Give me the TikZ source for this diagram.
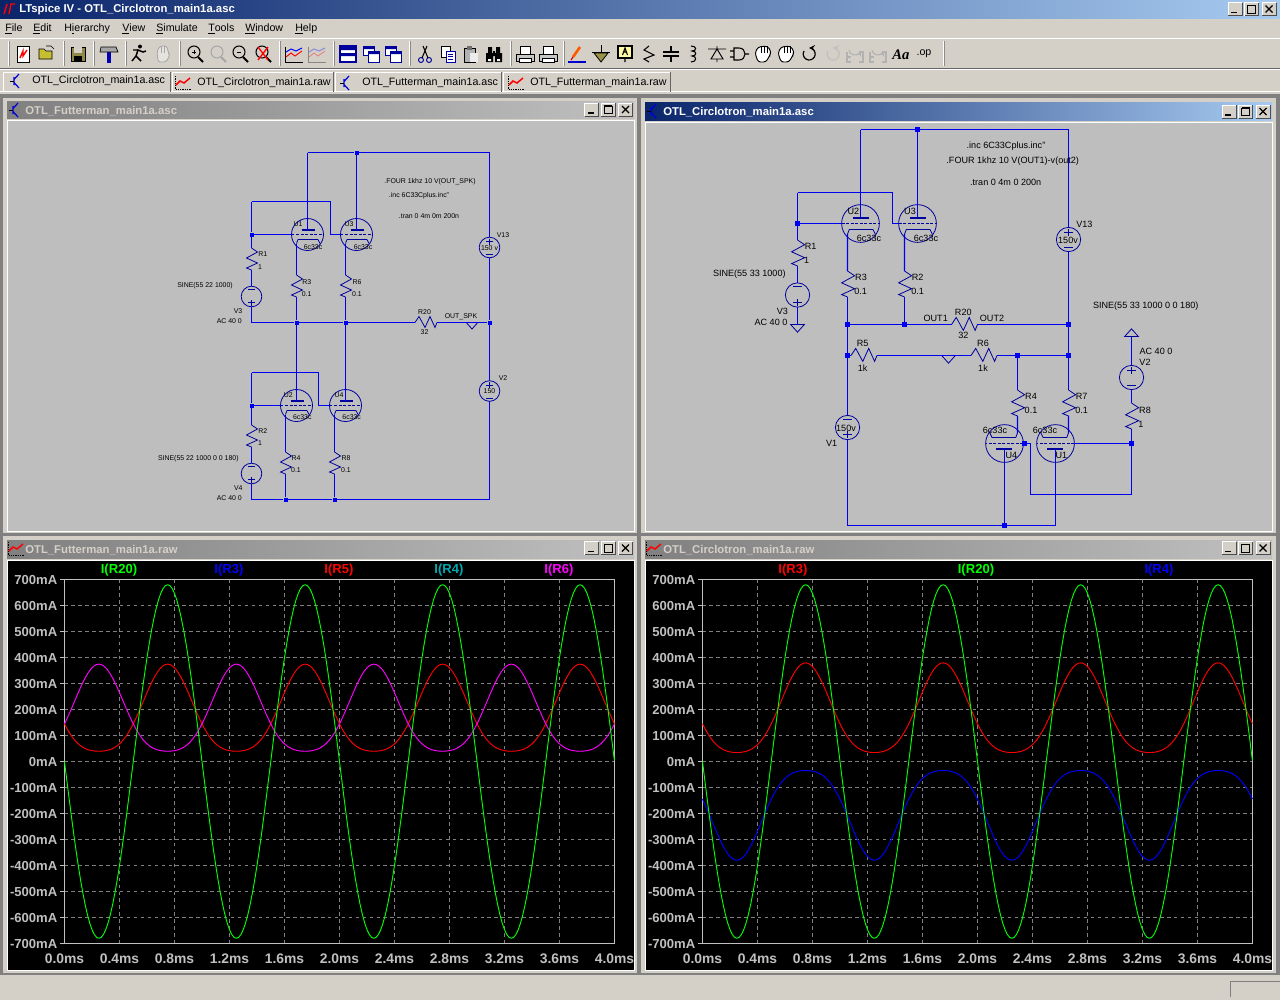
\documentclass[tikz,border=0pt]{standalone}
\usepackage{fontspec}
\setmainfont{Liberation Sans}
\newfontfamily\aafont{Liberation Serif}
\usepackage{xcolor}
\definecolor{panel}{HTML}{D4D0C8}
\definecolor{schem}{HTML}{BEBEBE}
\definecolor{wirec}{HTML}{0000F0}
\definecolor{elemc}{HTML}{00009C}
\definecolor{axisc}{HTML}{C0C0C0}
\definecolor{gridc}{HTML}{808080}
\definecolor{cyanlab}{HTML}{00A8B0}
\definecolor{titlea}{HTML}{0A246A}
\definecolor{titleb}{HTML}{A6CAF0}
\definecolor{tmag}{HTML}{FF00FF}
\tikzset{
	wire/.style={wirec,line width=0.9pt},
	elem/.style={elemc,line width=0.6pt},
	jl/.style={rectangle,fill=wirec,inner sep=0pt,minimum size=3pt},
	jr/.style={rectangle,fill=wirec,inner sep=0pt,minimum size=4pt},
	big/.style={scale=1.18},
	tl/.style={inner sep=0pt,font=\fontsize{5.2}{6}\selectfont},
	tr/.style={inner sep=0pt,font=\fontsize{6.8}{8}\selectfont},
	uitext/.style={inner sep=0pt,anchor=west,font=\fontsize{8}{10}\selectfont},
	wintitle/.style={inner sep=0pt,anchor=west,font=\fontsize{8.5}{10}\selectfont\bfseries},
	axlab/.style={inner sep=0pt,axisc,font=\fontsize{9.8}{11}\selectfont\bfseries},
	griddash/.style={gridc,line width=0.6pt,dash pattern=on 2.6pt off 2.6pt},
	trace/.style={line width=0.7pt,line join=round},
	active/.style={left color=titlea,right color=titleb},
	inactive/.style={left color=gridc,right color=axisc},
	resv/.pic={
		\coordinate (-a) at (0,0);
		\coordinate (-b) at (0,22);
		\draw[elem] (-a) -- (6,4) -- (-5,10) -- (6,15) -- (-5,20) -- (-b);
	},
	vsrc/.pic={
		\coordinate (-p) at (0,-10.3);
		\coordinate (-m) at (0,10.3);
		\draw[elem] (0,0) circle [radius=10.3];
		\draw[elem] (-3.5,-6) -- (3.5,-6) (0,-9) -- (0,-3) (-3.5,7) -- (3.5,7);
	},
	tube/.pic={
		\coordinate (-plate) at (0,-4.5);
		\coordinate (-cath) at (-11,9);
		\coordinate (-gl) at (-16,0);
		\coordinate (-gr) at (16,0);
		\draw[elem] (0,0) circle [radius=16];
		\draw[elem,line width=1.3pt] (-6,-4.5) -- (7,-4.5);
		\draw[elem,dash pattern=on 2.2pt off 1.2pt] (-16,0) -- (16,0);
		\draw[elem,line width=1.2pt] (-9.5,5) -- (10.5,5);
		\draw[elem] (-11,9) -- (-9.5,5) (10.5,5) -- (12.5,9);
	},
	flag/.pic={
		\coordinate (-a) at (0,0);
		\draw[elem] (-5.8,0) -- (5.8,0) -- (0,6.5) -- cycle;
	},
	icnew/.pic={
		\draw[black,fill=white,line width=0.5pt] (-6,-8) rectangle (6,8);
		\draw[red,line width=1.1pt] (-3,4) -- (0,-3) -- (0,2) -- (4,-4);
	},
	icopen/.pic={
		\draw[black,fill=yellow!75!black,line width=0.5pt] (-8,6) -- (-8,-4) -- (-3,-4) -- (-1,-2) -- (5,-2) -- (5,6) -- cycle;
		\draw[black,line width=0.5pt] (-1,-7) -- (4,-7) -- (7,-4);
	},
	icsave/.pic={
		\draw[black,fill=yellow!50!black,line width=0.6pt] (-7,-7) rectangle (7,7);
		\fill[panel] (-4,-7) rectangle (4,-1);
		\fill[black] (-4,2) rectangle (4,7);
	},
	ichammer/.pic={
		\fill[blue!70!black] (-2,-2) rectangle (2,9);
		\draw[black,fill=gray!70,line width=0.5pt] (-9,-2) -- (-8,-7) -- (7,-7) -- (9,-2) -- cycle;
	},
	icrun/.pic={
		\draw[black,line width=1.1pt] (-7,8) -- (-3,3) -- (-1,-3) -- (4,-1) -- (7,-2) (-1,-3) -- (-6,-3) (-3,3) -- (2,8);
		\fill[black] (1,-6.5) circle [radius=2];
	},
	ichand/.pic={
		\draw[gray!70,fill=panel!60!white,line width=0.6pt,rounded corners=2pt] (-5,8) -- (-6,-3) -- (-3,-8) -- (4,-8) -- (5,-2) -- (7,1) -- (3,8) -- cycle;
		\draw[gray!70,line width=0.5pt] (-2,-8) -- (-2,-1) (1,-8) -- (1,-1);
	},
	ichandk/.pic={
		\draw[black,fill=white,line width=0.7pt,rounded corners=2pt] (-5,8) -- (-8,-1) -- (-5,-7) -- (4,-8) -- (8,-3) -- (7,1) -- (3,8) -- cycle;
		\draw[black,line width=0.6pt] (-2,-8) -- (-2,-1) (1,-8) -- (1,-1) (4,-8) -- (4,-1);
	},
	icwave/.pic={
		\draw[black,line width=0.5pt] (-9,-7) -- (-9,8) -- (9,8);
		\draw[red,line width=0.7pt] (-8,3) -- (-3,-1) -- (1,2) -- (8,-3);
		\draw[blue,line width=0.7pt] (-8,-2) -- (-3,-5) -- (2,-3) -- (8,-6);
	},
	icwin/.pic={
		\draw[elemc,fill=white,line width=0.8pt] (-8,-8) rectangle (8,8);
		\fill[elemc] (-8,-8) rectangle (8,-4) (-8,-1) rectangle (8,2);
	},
	iccasc/.pic={
		\draw[elemc,fill=white,line width=0.7pt] (-8,-8) rectangle (3,1);
		\draw[elemc,fill=white,line width=0.7pt] (-3,-3) rectangle (8,8);
		\fill[elemc] (-8,-8) rectangle (3,-5) (-3,-3) rectangle (8,0);
	},
	icscis/.pic={
		\draw[elemc,line width=0.7pt] (-4,6) circle [radius=2.5] (4,6) circle [radius=2.5];
		\draw[black,line width=0.8pt] (-3,4) -- (2,-8) (3,4) -- (-2,-8);
	},
	iccopy/.pic={
		\draw[black,fill=white,line width=0.5pt] (-7,-8) rectangle (2,3);
		\draw[blue!70!black,fill=white,line width=0.5pt] (-2,-3) rectangle (7,8);
		\draw[elemc,line width=0.5pt] (0,0) -- (5,0) (0,2.5) -- (5,2.5) (0,5) -- (5,5);
	},
	icpaste/.pic={
		\draw[black,fill=gray!60,line width=0.5pt] (-7,-6) rectangle (4,8);
		\fill[gray!85!black] (-4,-8) rectangle (1,-4);
		\fill[white!85!gray] (-1,-1) rectangle (7,8);
	},
	icbino/.pic={
		\fill[black] (-8,-1) rectangle (-1,8) (1,-1) rectangle (8,8) (-6,-7) rectangle (-2,0) (2,-7) rectangle (6,0) (-1,-3) rectangle (1,2);
		\fill[white] (-6,5) rectangle (-3,7) (3,5) rectangle (6,7);
	},
	icprint/.pic={
		\draw[black,fill=white,line width=0.6pt] (-5,-8) rectangle (5,0);
		\draw[black,fill=gray!45,line width=0.6pt] (-9,0) rectangle (9,7);
		\draw[black,fill=white,line width=0.5pt] (-6,4) rectangle (6,8);
	},
	icpen/.pic={
		\draw[orange!70!red,line width=2pt] (-4,3) -- (3,-7);
		\draw[red!70!black,line width=0.8pt] (-6,6) -- (-4,3);
		\draw[blue!80!black,line width=0.9pt] (-9,8) -- (9,8);
	},
	icgnd/.pic={
		\draw[black,line width=0.7pt] (0,-9) -- (0,-2) (-9,-2) -- (9,-2);
		\draw[black,fill=yellow!55!black,line width=0.6pt] (-7,-1) -- (7,-1) -- (0,8) -- cycle;
	},
	iclabel/.pic={
		\draw[black,fill=yellow!35!white,line width=0.8pt] (-7,-8) rectangle (7,4);
		\draw[black,line width=0.8pt] (0,4) -- (0,8) (-2.5,1) -- (0,-6) -- (2.5,1) (-1.5,-2) -- (1.5,-2);
	},
	icres/.pic={
		\draw[black,line width=0.8pt] (0,-8) -- (-5,-4) -- (5,1) -- (-5,5) -- (0,8);
	},
	iccap/.pic={
		\draw[black,line width=0.8pt] (0,-8) -- (0,-2) (-8,-2) -- (8,-2) (-8,2) -- (8,2) (0,2) -- (0,8);
	},
	icind/.pic={
		\draw[black,line width=0.8pt] (-2,-8) .. controls (4,-8) and (4,-3) .. (-1,-3) .. controls (4,-3) and (4,2) .. (-1,2) .. controls (4,2) and (4,8) .. (-2,8);
	},
	icdiode/.pic={
		\draw[black,line width=0.7pt] (-9,-5) -- (9,-5) (0,-8) -- (0,-5) (-6,5) -- (6,5) -- (0,-5) -- cycle (0,5) -- (0,8);
	},
	icgate/.pic={
		\draw[black,line width=0.8pt] (-9,-3) -- (-5,-3) (-9,3) -- (-5,3) (-5,-6) -- (0,-6) .. controls (8,-6) and (8,6) .. (0,6) -- (-5,6) -- cycle (6,0) -- (10,0);
	},
	icredo/.pic={
		\draw[line width=0.9pt,->,>=stealth] (-4,-3) arc (210:-90:6);
	},
	iclabelgray/.pic={
		\draw[gray!60,line width=0.8pt] (-8,-2) -- (-8,8) -- (-4,8) (-8,3) -- (-4,3) (4,-2) -- (8,-2) -- (8,8) -- (4,8);
		\draw[gray!60,line width=0.8pt,->,>=stealth] (-6,-4) arc (170:20:6);
	},
	icsch/.pic={
		\draw[blue!85!black,line width=0.9pt] (-3,-4) -- (-3,4) (-3,-1.5) -- (2,-7) (-3,1.5) -- (2,7);
		\draw[black,line width=0.6pt] (-7,0) -- (-3,0);
	},
	icraw/.pic={
		\draw[black,line width=0.6pt,dash pattern=on 1pt off 0.7pt] (-8,-7) -- (-8,6) -- (8,6);
		\draw[red,line width=1.1pt] (-7,2) -- (-3,-2) -- (1,0) -- (7,-5);
	},
}
\newcommand{\capbtns}[3]{
	\fill[panel] (#1,#2) rectangle +(14,13) (#1+16.5,#2) rectangle +(14,13) (#1+34,#2) rectangle +(14,13);
	\foreach \bx in {0,16.5,34}{
		\draw[white,line width=0.6pt] (#1+\bx,#2+13) -- (#1+\bx,#2) -- (#1+\bx+14,#2);
		\draw[black!70,line width=0.6pt] (#1+\bx+14,#2) -- (#1+\bx+14,#2+13) -- (#1+\bx,#2+13);
	}
	\draw[black,line width=1.2pt] (#1+3,#2+10) -- (#1+9,#2+10);
	\draw[black,line width=0.7pt] (#1+19.5,#2+#3) rectangle (#1+27.5,#2+10.5);
	\draw[black,line width=1pt] (#1+19.5,#2+#3) -- (#1+27.5,#2+#3);
	\draw[black,line width=1pt] (#1+37.5,#2+3) -- (#1+44.5,#2+10) (#1+44.5,#2+3) -- (#1+37.5,#2+10);
}
\newcommand{\plotframe}[1]{
	\begin{scope}[shift={(#1,761.5)}]
		\foreach \i in {1,...,9}
			\draw[griddash] (55*\i,-182) -- (55*\i,182);
		\foreach \v in {-6,...,6}
			\draw[griddash] (0,26*\v) -- (550,26*\v);
		\draw[axisc,line width=0.7pt] (0,-182) rectangle (550,182);
		\foreach \v in {-7,...,7}{
			\draw[axisc,line width=0.7pt] (-5,-26*\v) -- (0,-26*\v);
			\ifnum\v=0
				\node [axlab,anchor=east] at (-7,0) (ylab#1\v) {0mA};
			\else
				\node [axlab,anchor=east] at (-7,-26*\v) (ylab#1\v) {\v00mA};
			\fi
		}
		\foreach \t [count=\i from 0] in {0.0,0.4,0.8,1.2,1.6,2.0,2.4,2.8,3.2,3.6,4.0}
			\node [axlab,font=\fontsize{10.4}{11}\selectfont\bfseries] at (55*\i,197.5) (xlab#1\i) {\t ms};
	\end{scope}
}
\begin{document}
\begin{tikzpicture}[x=0.75pt,y=-0.75pt]
	\useasboundingbox (0,0) rectangle (1280,1000);
	\fill[panel] (0,0) rectangle (1280,1000);
	\fill[gridc] (0,94) rectangle (1280,975);

	\shade[active] (0,0) rectangle (1280,18);
	\draw[red,line width=1.1pt] (4,14) -- (7,4) (9,14) -- (11,4) -- (15,4);
	\node [wintitle,white] at (19,10) (apptitle) {LTspice IV - OTL\_Circlotron\_main1a.asc};
	\capbtns{1228}{2.5}{3}
	\foreach \t/\x in {\underline{F}ile/5,\underline{E}dit/33,H\underline{i}erarchy/64,\underline{V}iew/122,\underline{S}imulate/156,\underline{T}ools/208,\underline{W}indow/245,\underline{H}elp/295}
		\node [uitext] at (\x,29) (menu\x) {\t};
	\draw[white,line width=0.7pt] (0,38.5) -- (1280,38.5) (0,69.5) -- (1280,69.5);
	\draw[black!60,line width=0.7pt] (0,68) -- (1280,68);
	\foreach \x in {8,63,93,125,179,279,333,409,510,563,943}{
		\draw[white,line width=0.6pt] (\x,41) -- (\x,66);
		\draw[black!45,line width=0.6pt] (\x+1,41) -- (\x+1,66);
	}
	\pic at (23,54) {icnew};
	\pic at (47,53) {icopen};
	\pic at (78,54) {icsave};
	\pic at (109,54) {ichammer};
	\pic at (139,53) {icrun};
	\pic at (163,54) {ichand};
	\foreach \x/\c in {195/black,218/gray!70,240/black,263/black}{
		\draw[\c,line width=0.8pt] (\x-1,52) circle [radius=6];
		\draw[\c,line width=1.5pt] (\x+3,57) -- (\x+8,62);
	}
	\draw[black,line width=0.6pt] (192,52) -- (196,52) (194,50) -- (194,54) (237,52) -- (241,52);
	\draw[red,line width=1pt] (258,47) -- (268,60) (268,47) -- (258,60);
	\pic at (294,54) {icwave};
	\pic[opacity=0.35] at (317,54) {icwave};
	\pic at (348,54) {icwin};
	\pic at (371,54) {iccasc};
	\pic at (393,54) {iccasc};
	\pic at (425,54) {icscis};
	\pic at (448,54) {iccopy};
	\pic at (471,54) {icpaste};
	\pic at (494,54) {icbino};
	\pic at (525,54) {icprint};
	\pic at (548,54) {icprint};
	\pic at (577,54) {icpen};
	\pic at (601,54) {icgnd};
	\pic at (625,54) {iclabel};
	\pic at (649,54) {icres};
	\pic at (671,54) {iccap};
	\pic at (693,54) {icind};
	\pic at (717,54) {icdiode};
	\pic at (739,54) {icgate};
	\pic at (763,54) {ichandk};
	\pic at (786,54) {ichandk};
	\pic[black] at (808,54) {icredo};
	\pic[gray!50] at (832,54) {icredo};
	\pic at (855,54) {iclabelgray};
	\pic at (878,54) {iclabelgray};
	\node [inner sep=0pt,font=\fontsize{11}{12}\selectfont\aafont\bfseries\itshape] at (901,55) (icaa) {Aa};
	\node [inner sep=0pt,font=\fontsize{8}{10}\selectfont] at (924,54) (icop) {.op};

	\draw[white,line width=0.7pt] (0,91.5) -- (1280,91.5);
	\foreach \xa/\xb/\xi/\xt/\yt/\t/\ic/\n in {3/170/17/32/81/OTL\_Circlotron\_main1a.asc/icsch/1,172/333/183/197/83/OTL\_Circlotron\_main1a.raw/icraw/2,335/501/347/362/83/OTL\_Futterman\_main1a.asc/icsch/3,503/670/516/530/83/OTL\_Futterman\_main1a.raw/icraw/4}{
		\draw[white,line width=0.6pt] (\xa,92) -- (\xa,72) -- (\xb,72);
		\draw[black!60,line width=0.6pt] (\xb,72) -- (\xb,92);
		\pic at (\xi,\yt) {\ic};
		\node [uitext] at (\xt,\yt) (tab\n) {\t};
	}

	\fill[panel] (3,98) rectangle (637,533);
	\fill[panel] (641,98) rectangle (1276,533);
	\fill[panel] (3,536) rectangle (637,973);
	\fill[panel] (641,536) rectangle (1276,973);
	\shade[inactive] (7,101) rectangle (634,118);
	\shade[active] (645,102) rectangle (1272,120);
	\shade[inactive] (7,540) rectangle (634,558);
	\shade[inactive] (645,540) rectangle (1272,558);
	\fill[schem,draw=white,line width=0.6pt] (7,120) rectangle (634,531);
	\fill[schem,draw=white,line width=0.6pt] (645,122) rectangle (1272,531);
	\fill[black,draw=white,line width=0.6pt] (7,560) rectangle (634,970);
	\fill[black,draw=white,line width=0.6pt] (645,560) rectangle (1272,970);
	\pic at (16,110) {icsch};
	\pic at (654,111) {icsch};
	\pic at (16,549) {icraw};
	\pic at (654,549) {icraw};
	\node [wintitle,panel] at (25,111) (wlt) {OTL\_Futterman\_main1a.asc};
	\node [wintitle,white] at (663,112) (wrt) {OTL\_Circlotron\_main1a.asc};
	\node [wintitle,panel] at (25,550) (wlb) {OTL\_Futterman\_main1a.raw};
	\node [wintitle,panel] at (663,550) (wrb) {OTL\_Circlotron\_main1a.raw};
	\capbtns{584.5}{103}{3}
	\capbtns{1222}{105}{3}
	\capbtns{584.5}{541.5}{3}
	\capbtns{1222}{541.5}{3}
	\draw[black!50,line width=0.6pt] (1230,997) -- (1230,981) -- (1280,981);

	\node [jl] at (356.5,152.5) (ltop) {};
	\coordinate (ltl) at (307.5,152.5);
	\coordinate (ltr) at (489.5,152.5);
	\pic (lu1) at (307.5,234.5) {tube};
	\pic (lu3) at (356.5,234.5) {tube};
	\node [jl] at (251.5,234.5) (lgrid1) {};
	\coordinate (lg1) at (251.5,201.5);
	\coordinate (lg2) at (330.5,201.5);
	\coordinate (lg3) at (330.5,234.5);
	\pic (lr1) at (251.5,248) {resv};
	\pic[rotate=180] (lv3) at (251.5,296.5) {vsrc};
	\coordinate (lmidl) at (251.5,322.5);
	\pic (lr3) at (296.5,275) {resv};
	\pic (lr5) at (345.5,275) {resv};
	\node [jl] at (296.5,322.5) (lm1) {};
	\node [jl] at (345.5,322.5) (lm2) {};
	\node [jl] at (489.5,322.5) (lm3) {};
	\pic[rotate=90] (lr20) at (415,322.5) {resv};
	\pic (lflag) at (472,322.5) {flag};
	\pic (lv13) at (489.5,247.5) {vsrc};
	\pic (lv2) at (489.5,391) {vsrc};
	\pic (lu2) at (296.5,405.5) {tube};
	\pic (lu4) at (345.5,405.5) {tube};
	\node [jl] at (251.5,405.5) (lgrid2) {};
	\coordinate (lg4) at (251.5,372.5);
	\coordinate (lg5) at (318.5,372.5);
	\coordinate (lg6) at (318.5,405.5);
	\pic (lr2) at (251.5,425) {resv};
	\pic[rotate=180] (lv4) at (251.5,473.5) {vsrc};
	\pic (lr4) at (285.5,452) {resv};
	\pic (lr8) at (334.5,452) {resv};
	\coordinate (lbl) at (251.5,499.5);
	\coordinate (lbr) at (489.5,499.5);
	\node [jl] at (285.5,499.5) (lb1) {};
	\node [jl] at (334.5,499.5) (lb2) {};

	\path[wire]
	(ltl) edge (ltop)
	(ltop) edge (ltr)
	(ltl) edge (lu1-plate)
	(ltop) edge (lu3-plate)
	(ltr) edge (lv13-p)
	(lv13-m) edge (lm3)
	(lm3) edge (lv2-p)
	(lv2-m) edge (lbr)
	(lgrid1) edge (lu1-gl)
	(lgrid1) edge (lg1)
	(lg1) edge (lg2)
	(lg2) edge (lg3)
	(lg3) edge (lu3-gl)
	(lgrid1) edge (lr1-a)
	(lr1-b) edge (lv3-m)
	(lv3-p) edge (lmidl)
	(lmidl) edge (lm1)
	(lm1) edge (lm2)
	(lm2) edge (lr20-a)
	(lr20-b) edge (lm3)
	(lu1-cath) edge (lr3-a)
	(lr3-b) edge (lm1)
	(lu3-cath) edge (lr5-a)
	(lr5-b) edge (lm2)
	(lm1) edge (lu2-plate)
	(lm2) edge (lu4-plate)
	(lgrid2) edge (lu2-gl)
	(lgrid2) edge (lg4)
	(lg4) edge (lg5)
	(lg5) edge (lg6)
	(lg6) edge (lu4-gl)
	(lgrid2) edge (lr2-a)
	(lr2-b) edge (lv4-m)
	(lv4-p) edge (lbl)
	(lu2-cath) edge (lr4-a)
	(lr4-b) edge (lb1)
	(lu4-cath) edge (lr8-a)
	(lr8-b) edge (lb2)
	(lbl) edge (lb1)
	(lb1) edge (lb2)
	(lb2) edge (lbr);

	\foreach \t/\x/\y/\n in {.FOUR 1khz 10 V(OUT\_SPK)/430/181.7/a,.inc 6C33Cplus.inc"/419/195.7/b,.tran 0 4m 0m 200n/429/215.7/c,V13/503/235/d,150 v/489.5/248.5/e,V2/503/378/f,150/489.5/391.5/g,U1/298/224/h,6c33c/313/246.7/i,U3/349/224/j,6c33c/363/246.7/k,R1/262.7/253.7/l,1/260/266.7/m,R3/306.7/281.7/n,0.1/306.7/293.7/o,R6/357/281.7/p,0.1/357/293.7/q,SINE(55 22 1000)/205/285.7/r,V3/238/311/s,AC 40 0/229.3/321.3/t,R20/424.5/312/u,32/424.5/332/v,OUT\_SPK/461/317/w,U2/288.3/395/x,U4/339/395/y,6c33c/302.3/417.3/z,6c33c/351.7/417.3/aa,R2/262.7/430.7/ab,1/260/442.7/ac,R4/296/457.7/ad,0.1/296/470.3/ae,R8/346/457.7/af,0.1/346/470.3/ag,SINE(55 22 1000 0 0 180)/198.3/458.7/ah,V4/238.3/488.3/ai,AC 40 0/229.3/497.7/aj}
		\node [tl] at (\x,\y) (ltxt\n) {\t};

	\node [jr] at (917.5,129.5) (rtop) {};
	\coordinate (rtl) at (860.5,129.5);
	\coordinate (rtr) at (1068.5,129.5);
	\pic[big] (ru2) at (860.5,223.5) {tube};
	\pic[big] (ru3) at (917.5,223.5) {tube};
	\node [jr] at (797.5,223.5) (rgrid) {};
	\coordinate (rg1) at (797.5,192.5);
	\coordinate (rg2) at (892.5,192.5);
	\coordinate (rg3) at (892.5,223.5);
	\pic[big] (rr1) at (797.5,240) {resv};
	\pic[big,rotate=180] (rv3) at (797.5,295) {vsrc};
	\pic[big] (rgnd) at (797.5,324.5) {flag};
	\pic[big] (rr3) at (847.5,271) {resv};
	\pic[big] (rr2) at (904.5,271) {resv};
	\node [jr] at (847.5,324.5) (rm1) {};
	\node [jr] at (904.5,324.5) (rm2) {};
	\node [jr] at (1068.5,324.5) (rm3) {};
	\pic[big,rotate=90] (rr20) at (951.5,324.5) {resv};
	\pic[big] (rv13) at (1068.5,239.5) {vsrc};
	\node [jr] at (847.5,355.5) (rn1) {};
	\pic[big,rotate=90] (rr5) at (851,355.5) {resv};
	\pic[big,rotate=90] (rr6) at (971,355.5) {resv};
	\pic[big] (rflag) at (948.5,355.5) {flag};
	\node [jr] at (1017.5,355.5) (rn2) {};
	\node [jr] at (1068.5,355.5) (rn3) {};
	\pic[big] (rr4) at (1017.5,390) {resv};
	\pic[big] (rr7) at (1068.5,390) {resv};
	\pic[big,rotate=180] (ru4) at (1004.5,443.5) {tube};
	\pic[big,rotate=180] (ru1) at (1055.5,443.5) {tube};
	\pic[big,rotate=180] (rv1) at (847.5,427.5) {vsrc};
	\coordinate (rbl) at (847.5,525.5);
	\coordinate (rbr) at (1055.5,525.5);
	\node [jr] at (1004.5,525.5) (rb1) {};
	\node [jr] at (1024.5,443.5) (rgrid4) {};
	\coordinate (rh1) at (1030.5,443.5);
	\coordinate (rh2) at (1030.5,494.5);
	\coordinate (rh3) at (1131.5,494.5);
	\node [jr] at (1131.5,443.5) (rgrid1) {};
	\pic[big] (rr8) at (1131.5,403) {resv};
	\pic[big] (rv2) at (1131.5,377.5) {vsrc};
	\pic[big,rotate=180] (rvcc) at (1131.5,336.5) {flag};

	\path[wire]
	(rtl) edge (rtop)
	(rtop) edge (rtr)
	(rtl) edge (ru2-plate)
	(rtop) edge (ru3-plate)
	(rtr) edge (rv13-p)
	(rv13-m) edge (rm3)
	(rgrid) edge (ru2-gl)
	(rgrid) edge (rg1)
	(rg1) edge (rg2)
	(rg2) edge (rg3)
	(rg3) edge (ru3-gl)
	(rgrid) edge (rr1-a)
	(rr1-b) edge (rv3-m)
	(rv3-p) edge (rgnd-a)
	(ru2-cath) edge (rr3-a)
	(rr3-b) edge (rm1)
	(ru3-cath) edge (rr2-a)
	(rr2-b) edge (rm2)
	(rm1) edge (rm2)
	(rm2) edge (rr20-a)
	(rr20-b) edge (rm3)
	(rm1) edge (rn1)
	(rm3) edge (rn3)
	(rn1) edge (rr5-a)
	(rr5-b) edge (rr6-a)
	(rr6-b) edge (rn2)
	(rn2) edge (rn3)
	(rn2) edge (rr4-a)
	(rr4-b) edge (ru4-cath)
	(rn3) edge (rr7-a)
	(rr7-b) edge (ru1-cath)
	(rn1) edge (rv1-m)
	(rv1-p) edge (rbl)
	(rbl) edge (rb1)
	(rb1) edge (rbr)
	(rbr) edge (ru1-plate)
	(rb1) edge (ru4-plate)
	(ru4-gl) edge (rgrid4)
	(rgrid4) edge (rh1)
	(rh1) edge (rh2)
	(rh2) edge (rh3)
	(rh3) edge (rgrid1)
	(rgrid1) edge (ru1-gl)
	(rgrid1) edge (rr8-b)
	(rr8-a) edge (rv2-m)
	(rv2-p) edge (rvcc-a);

	\foreach \t/\x/\y/\n in {.inc 6C33Cplus.inc"/1006/145.7/a,.FOUR 1khz 10 V(OUT1)-v(out2)/1012.7/161/b,.tran 0 4m 0 200n/1005.7/182.7/c,V13/1084.3/224/d,150v/1068/240/e,U2/853.3/211.7/f,U3/910/211.7/g,6c33c/869/238.3/h,6c33c/926/238.3/i,R1/810.7/246/j,1/806.7/260/k,SINE(55 33 1000)/749.3/273.7/l,V3/782.3/311.7/m,AC 40 0/771/322.7/n,R3/861/277.7/o,0.1/860.7/291.7/p,R2/917.7/277.7/q,0.1/917.7/291.7/r,OUT1/935.7/318.3/s,R20/963.3/312.3/t,32/963.3/335.7/u,OUT2/992/318.3/v,SINE(55 33 1000 0 0 180)/1145.7/305.7/w,AC 40 0/1156/351.7/x,V2/1145/362.7/y,R5/862.7/343.7/z,1k/862.7/368.3/aa,R6/983/343.7/ab,1k/983/368.3/ac,R4/1031/396.7/ad,0.1/1031/410.7/ae,R7/1081.7/396.7/af,0.1/1081.7/410.7/ag,R8/1145/410/ah,1/1141/424/ai,6c33c/995/430.7/aj,6c33c/1045/430.7/ak,U4/1011.3/455.7/al,U1/1061.3/455.7/am,150v/846/428/an,V1/831.7/443.7/ao}
		\node [tr] at (\x,\y) (rtxt\n) {\t};

	\plotframe{64.5}
	\plotframe{702.5}
	\begin{scope}[shift={(64.5,761.5)}]
		\draw[trace,red] plot[domain=0:4,samples=241] ({137.5*\x},{-0.26*(176-167.5*sin(360*\x)-31*cos(720*\x))});
		\draw[trace,tmag] plot[domain=0:4,samples=241] ({137.5*\x},{-0.26*(176+167.5*sin(360*\x)-31*cos(720*\x))});
		\draw[trace,green] plot[domain=0:4,samples=241] ({137.5*\x},{176.8*sin(360*\x)});
	\end{scope}
	\begin{scope}[shift={(702.5,761.5)}]
		\draw[trace,red] plot[domain=0:4,samples=241] ({137.5*\x},{-0.26*(176-172.5*sin(360*\x)-31*cos(720*\x))});
		\draw[trace,blue] plot[domain=0:4,samples=241] ({137.5*\x},{0.26*(176+172.5*sin(360*\x)-31*cos(720*\x))});
		\draw[trace,green] plot[domain=0:4,samples=241] ({137.5*\x},{176.8*sin(360*\x)});
	\end{scope}
	\foreach \t/\x/\c/\n in {I(R20)/119/green/a,I(R3)/229/blue/b,I(R5)/339/red/c,I(R4)/449/cyanlab/d,I(R6)/559/tmag/e,I(R3)/793/red/f,I(R20)/976/green/g,I(R4)/1159/blue/h}
		\node [axlab,\c] at (\x,570) (leg\n) {\t};
\end{tikzpicture}
\end{document}
